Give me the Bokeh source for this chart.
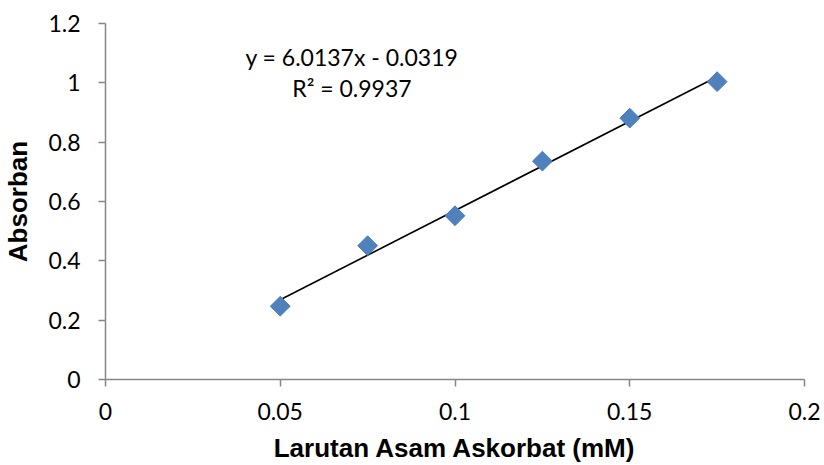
import numpy as np
from bokeh.plotting import figure
from bokeh.models import FixedTicker, Range1d, Label, ColumnDataSource
from bokeh.embed import file_html
from bokeh.resources import INLINE

# ---- data ----
konsentrasi = [0.05, 0.075, 0.1, 0.125, 0.15, 0.175]
absorban = [0.247, 0.451, 0.552, 0.736, 0.881, 1.004]
slope = 6.0137
intercept = -0.0319
r_squared = 0.9937
x_ticks = [0, 0.05, 0.1, 0.15, 0.2]
x_tick_labels = ["0", "0.05", "0.1", "0.15", "0.2"]
y_ticks = [0, 0.2, 0.4, 0.6, 0.8, 1.0, 1.2]
y_tick_labels = ["0", "0.2", "0.4", "0.6", "0.8", "1", "1.2"]

W, H = 824, 465
p = figure(width=W, height=H, output_backend="svg", toolbar_location=None,
           x_range=Range1d(0, 0.2), y_range=Range1d(0, 1.2),
           min_border_left=105, min_border_right=20, min_border_top=23, min_border_bottom=85)
p.outline_line_color = None
p.xgrid.visible = False
p.ygrid.visible = False
p.background_fill_color = "white"

axis_color = "#868686"
tick_font = "Lato"
for ax in (p.xaxis[0], p.yaxis[0]):
    ax.axis_line_color = axis_color
    ax.axis_line_width = 1.5
    ax.major_tick_line_color = axis_color
    ax.major_tick_line_width = 1.5
    ax.major_tick_in = 0
    ax.major_tick_out = 7
    ax.minor_tick_line_color = None
    ax.major_label_text_font = tick_font
    ax.major_label_text_font_size = "23px"
    ax.major_label_text_color = "black"
    ax.axis_label_text_font = "Liberation Sans"
    ax.axis_label_text_font_style = "bold"
    ax.axis_label_text_font_size = "26px"
    ax.axis_label_text_color = "black"

p.xaxis[0].ticker = FixedTicker(ticks=x_ticks)
p.xaxis[0].major_label_overrides = {t: l for t, l in zip(x_ticks, x_tick_labels)}
p.yaxis[0].ticker = FixedTicker(ticks=y_ticks)
p.yaxis[0].major_label_overrides = {t: l for t, l in zip(y_ticks, y_tick_labels)}
p.xaxis[0].major_label_standoff = 16
p.yaxis[0].major_label_standoff = 18
p.xaxis[0].axis_label = "Larutan Asam Askorbat (mM)"
p.yaxis[0].axis_label = "Absorban"
p.xaxis[0].axis_label_standoff = 10
p.yaxis[0].axis_label_standoff = 12

# trendline
xs = np.array([min(konsentrasi), max(konsentrasi)])
p.line(xs, slope * xs + intercept, line_color="black", line_width=1.6)

# points
src = ColumnDataSource(dict(x=konsentrasi, y=absorban))
p.scatter("x", "y", source=src, marker="square", angle=np.pi / 4, size=14,
          fill_color="#4F81BD", line_color="#4A7EBB", line_width=1)

eq_text = f"y = {slope:.4f}x - {abs(intercept):.4f}"
r2_text = f"R\u00b2 = {r_squared:.4f}"
p.add_layout(Label(x=0.0705, y=1.086, text=eq_text, text_align="center",
                   text_baseline="middle", text_font=tick_font,
                   text_font_size="23px", text_color="black"))
p.add_layout(Label(x=0.0705, y=0.982, text=r2_text, text_align="center",
                   text_baseline="middle", text_font=tick_font,
                   text_font_size="23px", text_color="black"))

open("out.html", "w").write(file_html(p, INLINE))
